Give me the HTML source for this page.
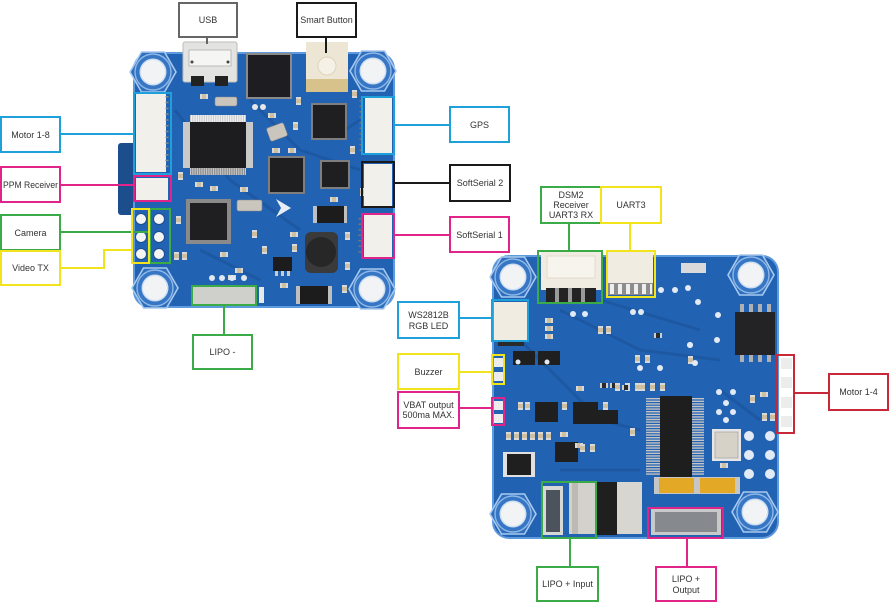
<!DOCTYPE html>
<html><head><meta charset="utf-8"><style>
html,body{margin:0;padding:0;background:#fff;}
svg{display:block;}
text{font-family:"Liberation Sans",sans-serif;font-size:9px;fill:#333;}
</style></head><body>
<svg width="890" height="603" viewBox="0 0 890 603" xmlns="http://www.w3.org/2000/svg">
<defs>
<g id="hole">
<polygon points="23,0 11.5,20 -11.5,20 -23,0 -11.5,-20 11.5,-20" fill="#2e6fbf" stroke="#a8c9ee" stroke-width="1.6"/>
<circle r="18" fill="#3676c4" stroke="#8fb8e6" stroke-width="1.4"/>
<circle r="13.5" fill="#cfe0f4"/>
<circle r="12" fill="#f2f3f4"/>
</g>
<g id="smd">
<rect x="0" y="0" width="8" height="5" fill="#cdbf9f"/>
<rect x="0" y="0" width="2" height="5" fill="#d9d9d9"/>
<rect x="6" y="0" width="2" height="5" fill="#d9d9d9"/>
</g>
<g id="smdv">
<rect x="0" y="0" width="5" height="8" fill="#cdbf9f"/>
<rect x="0" y="0" width="5" height="2" fill="#d9d9d9"/>
<rect x="0" y="6" width="5" height="2" fill="#d9d9d9"/>
</g>
<g id="blk">
<rect x="0" y="0" width="8" height="5" fill="#2a2a2a"/>
<rect x="0" y="0" width="2" height="5" fill="#cfcfcf"/>
<rect x="6" y="0" width="2" height="5" fill="#cfcfcf"/>
</g>
</defs>

<!-- ============ LEFT BOARD ============ -->
<rect x="118" y="143" width="20" height="72" rx="3" fill="#1c4e8e"/>
<rect x="134" y="53" width="260" height="254" rx="16" fill="#2262b2" stroke="#5e9ade" stroke-width="2"/>
<!-- traces -->
<path d="M175 110 L230 180 L300 230 M250 100 L300 150 L360 170 M200 250 L260 280 M330 140 L360 120" stroke="#1d58a3" stroke-width="3" fill="none"/>
<use href="#hole" x="153" y="72"/>
<use href="#hole" x="373" y="71"/>
<use href="#hole" x="155" y="288"/>
<use href="#hole" x="372" y="289"/>

<!-- USB -->
<rect x="183" y="42" width="54" height="40" rx="2" fill="#e3e3e1" stroke="#bdbdbd"/>
<rect x="189" y="50" width="42" height="16" fill="#f5f5f3" stroke="#b0b0b0" stroke-width="0.8"/>
<circle cx="192" cy="62" r="1.5" fill="#444"/>
<circle cx="228" cy="62" r="1.5" fill="#444"/>
<rect x="191" y="76" width="13" height="10" fill="#222"/>
<rect x="215" y="76" width="13" height="10" fill="#222"/>
<!-- top chip -->
<rect x="246" y="53" width="46" height="46" fill="#8a8a8a"/>
<rect x="248" y="55" width="42" height="42" fill="#1e1e22"/>
<!-- button -->
<rect x="306" y="42" width="42" height="40" fill="#eee6d4"/>
<rect x="306" y="79" width="42" height="13" fill="#d6c28a"/>
<circle cx="327" cy="66" r="9" fill="#f6f1e7" stroke="#ded3bc"/>
<!-- main MCU -->
<rect x="190" y="115" width="56" height="60" fill="#c9c9c9"/>
<rect x="183" y="122" width="70" height="46" fill="#c9c9c9"/>
<line x1="191" y1="118.5" x2="245" y2="118.5" stroke="#f0f0f0" stroke-width="7" stroke-dasharray="1.3 1"/>
<line x1="191" y1="171.5" x2="245" y2="171.5" stroke="#8f8f8f" stroke-width="7" stroke-dasharray="1.3 1"/>
<rect x="190" y="122" width="56" height="46" fill="#1d1d20"/>
<!-- chip near button -->
<rect x="311" y="103" width="36" height="37" fill="#7e7e7e"/>
<rect x="313" y="105" width="32" height="33" fill="#1f1f22"/>
<!-- mid chip -->
<rect x="268" y="156" width="37" height="38" fill="#7e7e7e"/>
<rect x="270" y="158" width="33" height="34" fill="#1f1f22"/>
<!-- small chip -->
<rect x="320" y="160" width="30" height="29" fill="#7e7e7e"/>
<rect x="322" y="162" width="26" height="25" fill="#1f1f22"/>
<!-- bottom-left chip -->
<rect x="186" y="199" width="45" height="45" fill="#8a8a8a"/>
<rect x="190" y="203" width="37" height="37" fill="#1f1f22"/>
<!-- crystal bits -->
<rect x="215" y="97" width="22" height="9" rx="2" fill="#cac6bd" stroke="#888" stroke-width="0.6"/>
<rect x="237" y="200" width="25" height="11" rx="2" fill="#cac6bd" stroke="#888" stroke-width="0.6"/>
<rect x="268" y="125" width="18" height="14" rx="2" fill="#cac6bd" stroke="#888" stroke-width="0.6" transform="rotate(-20 277 132)"/>
<circle cx="255" cy="107" r="3" fill="#e6e6e6"/>
<circle cx="263" cy="107" r="3" fill="#e6e6e6"/>
<!-- logo arrow -->
<polygon points="276,199 291,208 276,217 281,208" fill="#e8eef8"/>
<!-- diode, inductor etc -->
<rect x="313" y="206" width="34" height="17" fill="#bfbfbf"/>
<rect x="317" y="206" width="27" height="17" fill="#1c1c1c"/>
<rect x="305" y="232" width="33" height="41" rx="6" fill="#3a3a3a"/>
<circle cx="321" cy="252" r="15" fill="#272727"/>
<rect x="273" y="257" width="19" height="14" fill="#1c1c1c"/>
<rect x="275" y="271" width="3" height="5" fill="#ccc"/><rect x="281" y="271" width="3" height="5" fill="#ccc"/><rect x="287" y="271" width="3" height="5" fill="#ccc"/>
<rect x="296" y="286" width="36" height="18" fill="#bfbfbf"/>
<rect x="300" y="286" width="28" height="18" fill="#1c1c1c"/>
<!-- small parts left board -->
<use href="#smd" x="200" y="94"/><use href="#smd" x="268" y="113"/>
<use href="#smdv" x="178" y="172"/><use href="#smd" x="195" y="182"/>
<use href="#smd" x="210" y="186"/><use href="#smd" x="240" y="187"/>
<use href="#smdv" x="293" y="122"/><use href="#smd" x="272" y="148"/>
<use href="#smd" x="288" y="148"/><use href="#smdv" x="350" y="146"/>
<use href="#smdv" x="352" y="90"/><use href="#smdv" x="296" y="97"/>
<use href="#smd" x="290" y="232"/><use href="#smdv" x="252" y="230"/>
<use href="#smdv" x="176" y="216"/><use href="#smdv" x="174" y="252"/>
<use href="#smdv" x="182" y="252"/><use href="#smd" x="220" y="252"/>
<use href="#smd" x="235" y="268"/><use href="#smdv" x="262" y="246"/>
<use href="#smdv" x="345" y="232"/><use href="#smdv" x="345" y="262"/>
<use href="#smd" x="280" y="283"/><use href="#smdv" x="342" y="285"/>
<use href="#smdv" x="292" y="244"/><use href="#smd" x="228" y="275"/>
<use href="#smd" x="330" y="197"/><use href="#smdv" x="360" y="188"/>
<circle cx="212" cy="278" r="3" fill="#e2e8f0"/><circle cx="222" cy="278" r="3" fill="#e2e8f0"/>
<circle cx="232" cy="278" r="3" fill="#e2e8f0"/><circle cx="244" cy="278" r="3" fill="#e2e8f0"/>
<!-- connectors -->
<rect x="136" y="94" width="30" height="78" fill="#f2f0ea"/>
<line x1="167" y1="96" x2="167" y2="170" stroke="#8a8a8a" stroke-width="3" stroke-dasharray="1.5 4.3"/>
<rect x="136" y="178" width="32" height="22" fill="#f2f0ea"/>
<rect x="365" y="98" width="27" height="56" fill="#f2f0ea"/>
<line x1="361" y1="100" x2="361" y2="152" stroke="#777" stroke-width="3" stroke-dasharray="1.5 4"/>
<rect x="364" y="164" width="28" height="42" fill="#f2f0ea"/>
<rect x="364" y="215" width="28" height="42" fill="#f2f0ea"/>
<line x1="360" y1="218" x2="360" y2="254" stroke="#777" stroke-width="3" stroke-dasharray="1.5 4"/>
<!-- pin header pads -->
<g fill="#f4f4f4" stroke="#1a4f90" stroke-width="1">
<circle cx="141" cy="219" r="5.5"/><circle cx="141" cy="237" r="5.5"/><circle cx="141" cy="254" r="5.5"/>
<circle cx="159" cy="219" r="5.5"/><circle cx="159" cy="237" r="5.5"/><circle cx="159" cy="254" r="5.5"/>
</g>
<!-- LIPO- pad -->
<rect x="193" y="287" width="62" height="18" fill="#cfcfcb"/>
<rect x="259" y="287" width="5" height="16" fill="#e8e8e8"/>

<!-- ============ RIGHT BOARD ============ -->
<rect x="493" y="256" width="285" height="282" rx="16" fill="#2262b2" stroke="#5e9ade" stroke-width="2"/>
<path d="M520 340 L600 420 L640 430 M560 310 L640 350 L720 360 M600 300 L700 330 M560 470 L640 470 M720 390 L760 420" stroke="#1d58a3" stroke-width="3" fill="none"/>
<use href="#hole" x="513" y="277"/>
<use href="#hole" x="751" y="275"/>
<use href="#hole" x="513" y="514"/>
<use href="#hole" x="755" y="512"/>
<!-- DSM2 conn -->
<rect x="541" y="252" width="60" height="38" fill="#f1ece2"/>
<rect x="547" y="256" width="48" height="22" fill="#f7f4ee" stroke="#ddd6c6" stroke-width="0.8"/>
<rect x="546" y="288" width="50" height="14" fill="#232323"/>
<rect x="555" y="288" width="4" height="14" fill="#9a9a9a"/><rect x="568" y="288" width="4" height="14" fill="#9a9a9a"/><rect x="581" y="288" width="4" height="14" fill="#9a9a9a"/>
<!-- UART3 conn -->
<rect x="608" y="252" width="45" height="34" fill="#f1ece2"/>
<rect x="608" y="283" width="45" height="12" fill="#8c8c8c"/>
<line x1="610" y1="289" x2="652" y2="289" stroke="#eee" stroke-width="10" stroke-dasharray="4 4"/>
<rect x="681" y="263" width="25" height="10" fill="#dadada"/>
<!-- WS2812 conn -->
<rect x="494" y="302" width="33" height="38" fill="#f1ece2"/>
<rect x="498" y="340" width="26" height="6" fill="#2a2a2a"/>
<!-- SOIC -->
<rect x="739" y="304" width="32" height="58" fill="#b0b0b0"/>
<line x1="739" y1="308" x2="771" y2="308" stroke="#2262b2" stroke-width="8" stroke-dasharray="5 4" stroke-dashoffset="-5"/>
<line x1="739" y1="358" x2="771" y2="358" stroke="#2262b2" stroke-width="8" stroke-dasharray="5 4" stroke-dashoffset="-5"/>
<rect x="735" y="312" width="40" height="43" fill="#232326"/>
<!-- TSSOP -->
<rect x="645" y="396" width="60" height="82" fill="#2262b2"/>
<line x1="653" y1="398" x2="653" y2="476" stroke="#c4c4c4" stroke-width="14" stroke-dasharray="1.4 1.2"/>
<line x1="697" y1="398" x2="697" y2="476" stroke="#c4c4c4" stroke-width="14" stroke-dasharray="1.4 1.2"/>
<rect x="660" y="396" width="32" height="82" fill="#1e1e1e"/>
<!-- crystal -->
<rect x="712" y="429" width="29" height="32" fill="#e6e6e6"/>
<rect x="715" y="432" width="23" height="26" fill="#d6d2c8" stroke="#a8a8a8" stroke-width="0.8"/>
<!-- tantalum caps -->
<rect x="654" y="477" width="45" height="17" fill="#c6c6c6"/>
<rect x="659" y="478" width="35" height="15" fill="#e2a826"/>
<rect x="696" y="477" width="44" height="17" fill="#c6c6c6"/>
<rect x="700" y="478" width="35" height="15" fill="#e2a826"/>
<!-- bottom power parts -->
<rect x="543" y="486" width="20" height="49" fill="#d8d8d6"/>
<rect x="546" y="490" width="14" height="42" fill="#4c535c"/>
<rect x="569" y="482" width="27" height="52" fill="#d3d1cb"/>
<rect x="572" y="482" width="6" height="52" fill="#bdbab3"/>
<rect x="597" y="482" width="20" height="53" fill="#1f1f1f"/>
<rect x="617" y="482" width="25" height="52" fill="#d8d6d0"/>
<rect x="651" y="509" width="70" height="26" fill="#c9c9c9"/>
<rect x="655" y="512" width="62" height="20" fill="#868a8f"/>
<!-- small black chips -->
<rect x="503" y="452" width="32" height="25" fill="#e0e0e0"/>
<rect x="507" y="454" width="24" height="21" fill="#1f1f1f"/>
<rect x="535" y="402" width="23" height="20" fill="#1f1f1f"/>
<rect x="573" y="402" width="25" height="22" fill="#1f1f1f"/>
<rect x="598" y="410" width="20" height="14" fill="#1f1f1f"/>
<rect x="555" y="442" width="23" height="20" fill="#1f1f1f"/>
<rect x="513" y="351" width="22" height="14" fill="#1f1f1f"/>
<rect x="538" y="351" width="22" height="14" fill="#1f1f1f"/>
<!-- smd right -->
<use href="#smd" x="560" y="432"/><use href="#smd" x="575" y="443"/>
<use href="#smdv" x="506" y="432"/><use href="#smdv" x="514" y="432"/><use href="#smdv" x="522" y="432"/>
<use href="#smdv" x="530" y="432"/><use href="#smdv" x="538" y="432"/><use href="#smdv" x="546" y="432"/>
<use href="#smdv" x="580" y="444"/><use href="#smdv" x="590" y="444"/>
<use href="#smd" x="576" y="386"/><use href="#blk" x="600" y="383"/><use href="#blk" x="610" y="383"/>
<use href="#smdv" x="615" y="383"/><use href="#smdv" x="625" y="383"/><use href="#smdv" x="635" y="383"/>
<use href="#smdv" x="640" y="383"/><use href="#smdv" x="650" y="383"/><use href="#smdv" x="660" y="383"/>
<use href="#smd" x="545" y="318"/><use href="#smd" x="545" y="326"/><use href="#smd" x="545" y="334"/>
<use href="#smdv" x="598" y="326"/><use href="#smdv" x="606" y="326"/>
<use href="#blk" x="654" y="333"/><use href="#smdv" x="688" y="356"/>
<use href="#smdv" x="635" y="355"/><use href="#smdv" x="645" y="355"/>
<use href="#smd" x="760" y="392"/><use href="#smdv" x="750" y="395"/>
<use href="#smdv" x="762" y="413"/><use href="#smdv" x="770" y="413"/>
<use href="#smd" x="720" y="463"/><use href="#blk" x="622" y="385"/>
<use href="#smdv" x="630" y="428"/><use href="#smdv" x="518" y="402"/><use href="#smdv" x="525" y="402"/>
<use href="#smdv" x="562" y="402"/><use href="#smdv" x="603" y="402"/>
<!-- vias -->
<g fill="#e2eaf5">
<circle cx="749" cy="436" r="5"/><circle cx="770" cy="436" r="5"/>
<circle cx="749" cy="455" r="5"/><circle cx="770" cy="455" r="5"/>
<circle cx="749" cy="474" r="5"/><circle cx="770" cy="474" r="5"/>
<circle cx="719" cy="392" r="3"/><circle cx="733" cy="392" r="3"/><circle cx="726" cy="403" r="3"/>
<circle cx="719" cy="412" r="3"/><circle cx="733" cy="412" r="3"/><circle cx="726" cy="420" r="3"/>
<circle cx="633" cy="312" r="3"/><circle cx="641" cy="312" r="3"/>
<circle cx="661" cy="290" r="3"/><circle cx="675" cy="290" r="3"/><circle cx="688" cy="288" r="3"/>
<circle cx="698" cy="302" r="3"/><circle cx="718" cy="315" r="3"/><circle cx="717" cy="340" r="3"/>
<circle cx="690" cy="345" r="3"/><circle cx="695" cy="363" r="3"/>
<circle cx="573" cy="314" r="3"/><circle cx="585" cy="314" r="3"/>
<circle cx="690" cy="345" r="3"/><circle cx="640" cy="368" r="3"/><circle cx="660" cy="368" r="3"/>
<circle cx="547" cy="362" r="2.5"/><circle cx="518" cy="362" r="2.5"/>
</g>
<!-- pads -->
<g fill="#ececec">
<rect x="781" y="358" width="11" height="11"/><rect x="781" y="377" width="11" height="11"/>
<rect x="781" y="397" width="11" height="11"/><rect x="781" y="416" width="11" height="11"/>
<rect x="494" y="358" width="9" height="9"/><rect x="494" y="372" width="9" height="9"/>
<rect x="494" y="401" width="9" height="9"/><rect x="494" y="414" width="9" height="9"/>
</g>

<!-- ============ CALLOUT LINES ============ -->
<g fill="none" stroke-width="2">
<line x1="207" y1="37" x2="207" y2="44" stroke="#666"/>
<line x1="326" y1="37" x2="326" y2="53" stroke="#1a1a1a"/>
<line x1="60" y1="134" x2="134" y2="134" stroke="#1ea0da"/>
<line x1="60" y1="185" x2="134" y2="185" stroke="#e0248a"/>
<line x1="60" y1="232" x2="150" y2="232" stroke="#3bab48"/>
<polyline points="60,268 104,268 104,250 132,250" stroke="#f2e41c"/>
<line x1="394" y1="125" x2="450" y2="125" stroke="#1ea0da"/>
<line x1="394" y1="183" x2="450" y2="183" stroke="#1a1a1a"/>
<line x1="394" y1="235" x2="450" y2="235" stroke="#e0248a"/>
<line x1="224" y1="305" x2="224" y2="335" stroke="#3bab48"/>
<line x1="569" y1="223" x2="569" y2="251" stroke="#3bab48"/>
<line x1="630" y1="223" x2="630" y2="251" stroke="#f2e41c"/>
<line x1="459" y1="318" x2="492" y2="318" stroke="#1ea0da"/>
<line x1="459" y1="372" x2="492" y2="372" stroke="#f2e41c"/>
<line x1="459" y1="408" x2="492" y2="408" stroke="#e0248a"/>
<line x1="794" y1="393" x2="829" y2="393" stroke="#c8283a"/>
<line x1="570" y1="538" x2="570" y2="567" stroke="#3bab48"/>
<line x1="687" y1="537" x2="687" y2="567" stroke="#e0248a"/>

<!-- highlight boxes on boards -->
<rect x="134" y="93" width="37" height="81" stroke="#1ea0da"/>
<rect x="134" y="176" width="37" height="25" stroke="#e0248a"/>
<rect x="150" y="209" width="20" height="54" stroke="#3bab48"/>
<rect x="132" y="209" width="17" height="54" stroke="#f2e41c"/>
<rect x="362" y="97" width="32" height="57" stroke="#1ea0da"/>
<rect x="362" y="162" width="32" height="45" stroke="#1a1a1a"/>
<rect x="362" y="214" width="32" height="44" stroke="#e0248a"/>
<rect x="192" y="286" width="64" height="19" stroke="#3bab48"/>
<rect x="538" y="251" width="64" height="52" stroke="#3bab48"/>
<rect x="607" y="251" width="48" height="46" stroke="#f2e41c"/>
<rect x="492" y="300" width="36" height="41" stroke="#1ea0da"/>
<rect x="492" y="355" width="12" height="29" stroke="#f2e41c"/>
<rect x="492" y="398" width="12" height="27" stroke="#e0248a"/>
<rect x="777" y="355" width="17" height="78" stroke="#c8283a"/>
<rect x="542" y="482" width="54" height="56" stroke="#3bab48"/>
<rect x="648" y="508" width="75" height="30" stroke="#e0248a"/>
</g>

<!-- ============ LABEL BOXES ============ -->
<g fill="#fff" stroke-width="2">
<rect x="179" y="3" width="58" height="34" stroke="#666"/>
<rect x="297" y="3" width="59" height="34" stroke="#1a1a1a"/>
<rect x="1" y="117" width="59" height="35" stroke="#1ea0da"/>
<rect x="1" y="167" width="59" height="35" stroke="#e0248a"/>
<rect x="1" y="215" width="59" height="35" stroke="#3bab48"/>
<rect x="1" y="251" width="59" height="34" stroke="#f2e41c"/>
<rect x="450" y="107" width="59" height="35" stroke="#1ea0da"/>
<rect x="450" y="165" width="60" height="36" stroke="#1a1a1a"/>
<rect x="450" y="217" width="59" height="35" stroke="#e0248a"/>
<rect x="193" y="335" width="59" height="34" stroke="#3bab48"/>
<rect x="541" y="187" width="60" height="36" stroke="#3bab48"/>
<rect x="601" y="187" width="60" height="36" stroke="#f2e41c"/>
<rect x="398" y="302" width="61" height="36" stroke="#1ea0da"/>
<rect x="398" y="354" width="61" height="35" stroke="#f2e41c"/>
<rect x="398" y="392" width="61" height="36" stroke="#e0248a"/>
<rect x="829" y="374" width="59" height="36" stroke="#c8283a"/>
<rect x="537" y="567" width="61" height="34" stroke="#3bab48"/>
<rect x="656" y="567" width="60" height="34" stroke="#e0248a"/>
</g>
<g text-anchor="middle">
<text x="208" y="23">USB</text>
<text x="326.5" y="23">Smart Button</text>
<text x="30.5" y="138">Motor 1-8</text>
<text x="30.5" y="188" textLength="55" lengthAdjust="spacingAndGlyphs">PPM Receiver</text>
<text x="30.5" y="236">Camera</text>
<text x="30.5" y="271">Video TX</text>
<text x="479.5" y="128">GPS</text>
<text x="480" y="186">SoftSerial 2</text>
<text x="479.5" y="238">SoftSerial 1</text>
<text x="222.5" y="355">LIPO -</text>
<text x="571" y="198">DSM2</text>
<text x="571" y="208">Receiver</text>
<text x="571" y="218">UART3 RX</text>
<text x="631" y="208">UART3</text>
<text x="428.5" y="318">WS2812B</text>
<text x="428.5" y="329">RGB LED</text>
<text x="428.5" y="375">Buzzer</text>
<text x="428.5" y="408">VBAT output</text>
<text x="428.5" y="418">500ma MAX.</text>
<text x="858.5" y="395">Motor 1-4</text>
<text x="567.5" y="587">LIPO + Input</text>
<text x="686" y="582">LIPO +</text>
<text x="686" y="593">Output</text>
</g>
</svg>
</body></html>
